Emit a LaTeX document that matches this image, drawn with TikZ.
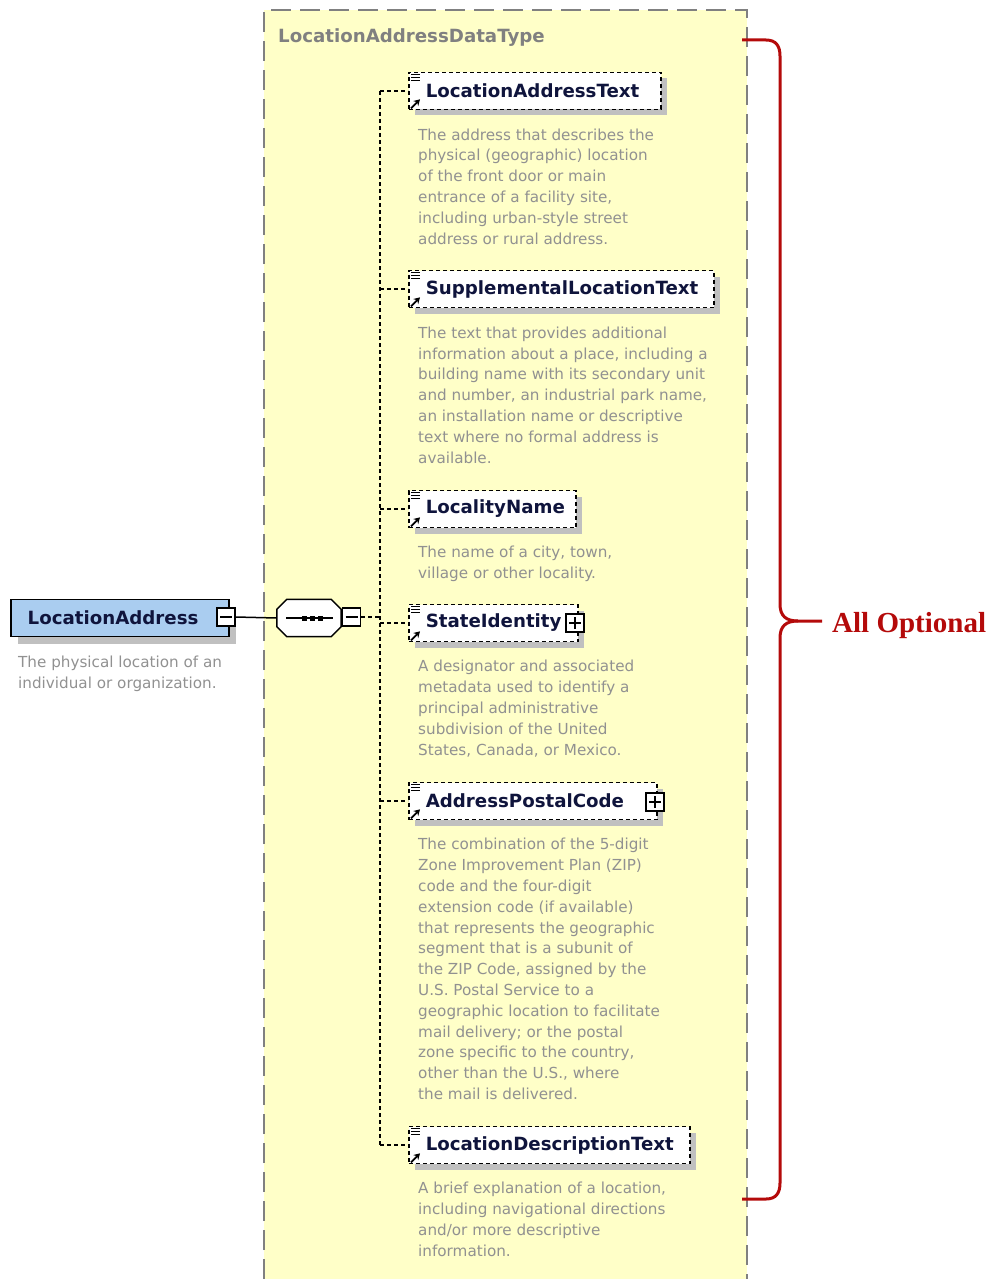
\documentclass[tikz,border=0pt]{standalone}
\usepackage{fontspec}
\setmainfont{DejaVu Sans}
\newfontfamily\bracefont{Liberation Serif}
\usetikzlibrary{positioning,shadows,arrows.meta}

\definecolor{typefill}{RGB}{255,255,200}
\definecolor{typeline}{RGB}{128,128,128}
\definecolor{rootfill}{RGB}{170,205,240}
\definecolor{namecol}{RGB}{15,20,60}
\definecolor{desccol}{RGB}{145,145,145}
\definecolor{bracered}{RGB}{180,10,10}
\definecolor{shadowgray}{RGB}{192,192,192}

\tikzset{
  namefont/.style={font=\fontsize{18.2}{22}\selectfont\bfseries},
  elembox/.style={namefont, draw, dash pattern=on 4pt off 3pt, line width=1.6pt,
    fill=white, text=namecol, minimum height=37pt, inner xsep=0pt, inner ysep=0pt,
    align=left, anchor=west,
    drop shadow={shadow xshift=6pt, shadow yshift=-6pt, fill=shadowgray, opacity=1}},
  rootbox/.style={namefont, draw, line width=1.5pt, fill=rootfill, text=namecol,
    minimum height=37pt, inner xsep=0pt, text width=218pt, align=left, anchor=west,
    drop shadow={shadow xshift=7pt, shadow yshift=-7pt, fill=shadowgray, opacity=1}},
  seqbox/.style={minimum width=64pt, minimum height=37pt, inner sep=0pt},
  minusbox/.style={draw, line width=1.3pt, fill=white, minimum size=18pt, inner sep=0pt,
    path picture={\draw[line width=1.3pt] ([xshift=3pt]path picture bounding box.west)
      -- ([xshift=-3pt]path picture bounding box.east);}},
  plusbox/.style={draw, line width=1.3pt, fill=white, minimum size=18pt, inner sep=0pt,
    path picture={\draw[line width=1.3pt] ([xshift=3pt]path picture bounding box.west)
      -- ([xshift=-3pt]path picture bounding box.east)
      ([yshift=3pt]path picture bounding box.south)
      -- ([yshift=-3pt]path picture bounding box.north);}},
  descr/.style={font=\fontsize{15.2}{20.8}\selectfont, text=desccol, align=left,
    anchor=base west, inner sep=0pt},
  branch/.style={line width=1.5pt, dash pattern=on 4pt off 3pt},
  iconline/.style={line width=1.2pt},
  optlabel/.style={font=\fontsize{29}{32}\selectfont\bracefont\bfseries, text=bracered,
    anchor=base west, inner sep=0pt}
}

\begin{document}
\begin{tikzpicture}[x=1pt,y=-1pt]
  \useasboundingbox (0,0) rectangle (992,1279);

  \fill[typefill] (264,10) rectangle (747,1279);
  \draw[typeline, line width=2pt, dash pattern=on 20pt off 9pt] (264,1279) -- (264,10) -- (747,10) -- (747,1279);
  \node[namefont, text=typeline, anchor=base west, inner sep=0pt] (typename) at (278,43) {LocationAddressDataType};

  \node[rootbox] (root) at (10,618) {\hspace*{17pt}LocationAddress};
  \node[minusbox] (rootpm) at (226,617) {};
  \node[descr] (rootd) at (18,688) {The physical location of an\\individual or organization.};

  \node[seqbox] (seq) at (309,618) {};
  \fill[shadowgray, shift={(6pt,-6pt)}] ([xshift=10pt]seq.north west) -- ([xshift=-10pt]seq.north east) -- ([yshift=-10pt]seq.north east) -- ([yshift=10pt]seq.south east) -- ([xshift=-10pt]seq.south east) -- ([xshift=10pt]seq.south west) -- ([yshift=10pt]seq.south west) -- ([yshift=-10pt]seq.north west) -- cycle;
  \draw[line width=1.5pt, fill=white] ([xshift=10pt]seq.north west) -- ([xshift=-10pt]seq.north east) -- ([yshift=-10pt]seq.north east) -- ([yshift=10pt]seq.south east) -- ([xshift=-10pt]seq.south east) -- ([xshift=10pt]seq.south west) -- ([yshift=10pt]seq.south west) -- ([yshift=-10pt]seq.north west) -- cycle;
  \draw[line width=1.3pt] ([xshift=-23pt]seq.center) -- ([xshift=24pt]seq.center);
  \foreach \dx in {-7,1,9}
    \fill ([xshift=\dx pt, yshift=-2.5pt]seq.center) rectangle ++(5pt,5pt);
  \node[minusbox] (seqpm) at (351.5,617) {};
  \draw[line width=1.5pt] (rootpm.east) -- (seq.west);

  \coordinate (trunk) at (380,617);
  \draw[branch] (seqpm.east) -- (trunk);

  \node[elembox, text width=252pt] (lat) at (408,91) {\hspace*{17pt}LocationAddressText};
  \node[elembox, text width=305pt] (slt) at (408,289) {\hspace*{17pt}SupplementalLocationText};
  \node[elembox, text width=167pt] (lcn) at (408,509) {\hspace*{17pt}LocalityName};
  \node[elembox, text width=169pt] (sid) at (408,623) {\hspace*{17pt}StateIdentity};
  \node[elembox, text width=248pt] (apc) at (408,801) {\hspace*{17pt}AddressPostalCode};
  \node[elembox, text width=281pt] (ldt) at (408,1145) {\hspace*{17pt}LocationDescriptionText};
  \node[plusbox] (sidpm) at (575,623) {};
  \node[plusbox] (apcpm) at (655,802) {};

  \draw[branch] (trunk |- lat.west) -- (trunk |- ldt.west);
  \foreach \e in {lat,slt,lcn,sid,apc,ldt} {
    \draw[branch] (trunk |- \e.west) -- (\e.west);
    \foreach \dy in {3,6,9}
      \draw[iconline] ([shift={(3pt,-\dy pt)}]\e.north west) -- ++(9pt,0pt);
    \draw[line width=1.8pt, -{Stealth[length=6pt,width=7pt]}] ([shift={(3pt,2pt)}]\e.south west) -- ++(9pt,9pt);
  }

  \node[descr] (latd) at (418,244) {The address that describes the\\physical (geographic) location\\of the front door or main\\entrance of a facility site,\\including urban-style street\\address or rural address.};
  \node[descr] (sltd) at (418,463) {The text that provides additional\\information about a place, including a\\building name with its secondary unit\\and number, an industrial park name,\\an installation name or descriptive\\text where no formal address is\\available.};
  \node[descr] (lcnd) at (418,578) {The name of a city, town,\\village or other locality.};
  \node[descr] (sidd) at (418,755) {A designator and associated\\metadata used to identify a\\principal administrative\\subdivision of the United\\States, Canada, or Mexico.};
  \node[descr] (apcd) at (418,1099.5) {The combination of the 5-digit\\Zone Improvement Plan (ZIP)\\code and the four-digit\\extension code (if available)\\that represents the geographic\\segment that is a subunit of\\the ZIP Code, assigned by the\\U.S. Postal Service to a\\geographic location to facilitate\\mail delivery; or the postal\\zone specific to the country,\\other than the U.S., where\\the mail is delivered.};
  \node[descr] (ldtd) at (418,1256) {A brief explanation of a location,\\including navigational directions\\and/or more descriptive\\information.};

  \coordinate (bracetop) at (742,40);
  \coordinate (bracebot) at (742,1199);
  \coordinate (bracetip) at (822,621);
  \draw[bracered, line width=3pt] (bracetop) -- (766,40) .. controls (776,40) and (780,46) .. (780,56) -- (780,604) .. controls (780,616) and (786,621) .. (798,621) -- (bracetip);
  \draw[bracered, line width=3pt] (798,621) .. controls (786,621) and (780,626) .. (780,638) -- (780,1183) .. controls (780,1193) and (776,1199) .. (766,1199) -- (bracebot);
  \node[optlabel] (allopt) at (832,632) {All Optional};
\end{tikzpicture}
\end{document}
